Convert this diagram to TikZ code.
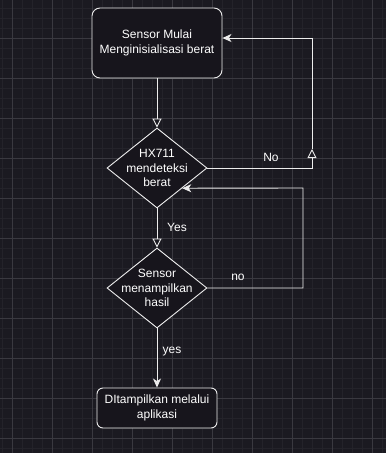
\documentclass[tikz,border=0pt]{standalone}
\usepackage{fontspec}
\setmainfont{Liberation Sans}
\usetikzlibrary{shapes.geometric,arrows.meta}

\definecolor{canvas}{HTML}{1B1A21}
\definecolor{gridminor}{HTML}{24232A}
\definecolor{gridmajor}{HTML}{3A3940}
\definecolor{boxfill}{HTML}{17151C}
\definecolor{edge}{HTML}{EDEDED}

\tikzset{
  proc/.style={draw=edge, fill=boxfill, rounded corners=8pt, text=white, align=center,
    font=\fontsize{12}{15}\selectfont, line width=0.9pt},
  decision/.style={draw=edge, fill=boxfill, diamond, minimum width=100pt, minimum height=80pt,
    inner sep=0pt, line width=0.9pt},
  dtext/.style={text=white, align=center, font=\fontsize{12}{14.5}\selectfont},
  flow/.style={draw=edge, line width=0.9pt},
  openhead/.style={flow, -{Triangle[open, length=9pt, width=9pt]}},
  fullhead/.style={flow, -{Stealth[length=9pt, width=8pt, inset=2.5pt]}},
  lbl/.style={text=white, font=\fontsize{12}{14}\selectfont}
}

\begin{document}
\begin{tikzpicture}[x=1pt, y=-1pt]
\useasboundingbox (0,0) rectangle (386,453);
\fill[canvas] (0,0) rectangle (386,453);
% grid
\foreach \gx in {2,12,...,382} \draw[gridminor, line width=0.5pt] (\gx,0) -- (\gx,453);
\foreach \gy in {8,18,...,448} \draw[gridminor, line width=0.5pt] (0,\gy) -- (386,\gy);
\foreach \gx in {12,52,...,372} \draw[gridmajor, line width=0.6pt] (\gx,0) -- (\gx,453);
\foreach \gy in {38,78,...,438} \draw[gridmajor, line width=0.6pt] (0,\gy) -- (386,\gy);

\node[proc, minimum width=130pt, minimum height=70pt] (mulai) at (157,43) {Sensor Mulai\\Menginisialisasi berat};
\node[decision] (hx) at (157,168) {};
\node[dtext] at (hx) {HX711\\mendeteksi\\berat};
\node[decision] (tampil) at (157,288) {};
\node[dtext] at (tampil) {Sensor\\menampilkan\\hasil};
\node[proc, minimum width=120pt, minimum height=40pt, rounded corners=6pt] (apl) at (157,408) {DItampilkan melalui\\aplikasi};

\coordinate (noMid) at (312,149);
\coordinate (loopB) at (303,188);

\draw[openhead] (mulai) -- (hx);
\draw[openhead] (hx.east) -| (noMid);
\draw[fullhead] (noMid) |- (mulai.east |- 0,38);
\node[lbl] (noA) at (271,157) {No};

\draw[openhead] (hx) -- (tampil);
\node[lbl] (yesA) at (177,227) {Yes};

\draw[fullhead] (tampil.east) -| (loopB) -- (hx.south east);
\node[lbl] (noB) at (238,277) {no};

\draw[fullhead] (tampil) -- (apl);
\node[lbl] (yesB) at (172,352) {yes};
\end{tikzpicture}
\end{document}
